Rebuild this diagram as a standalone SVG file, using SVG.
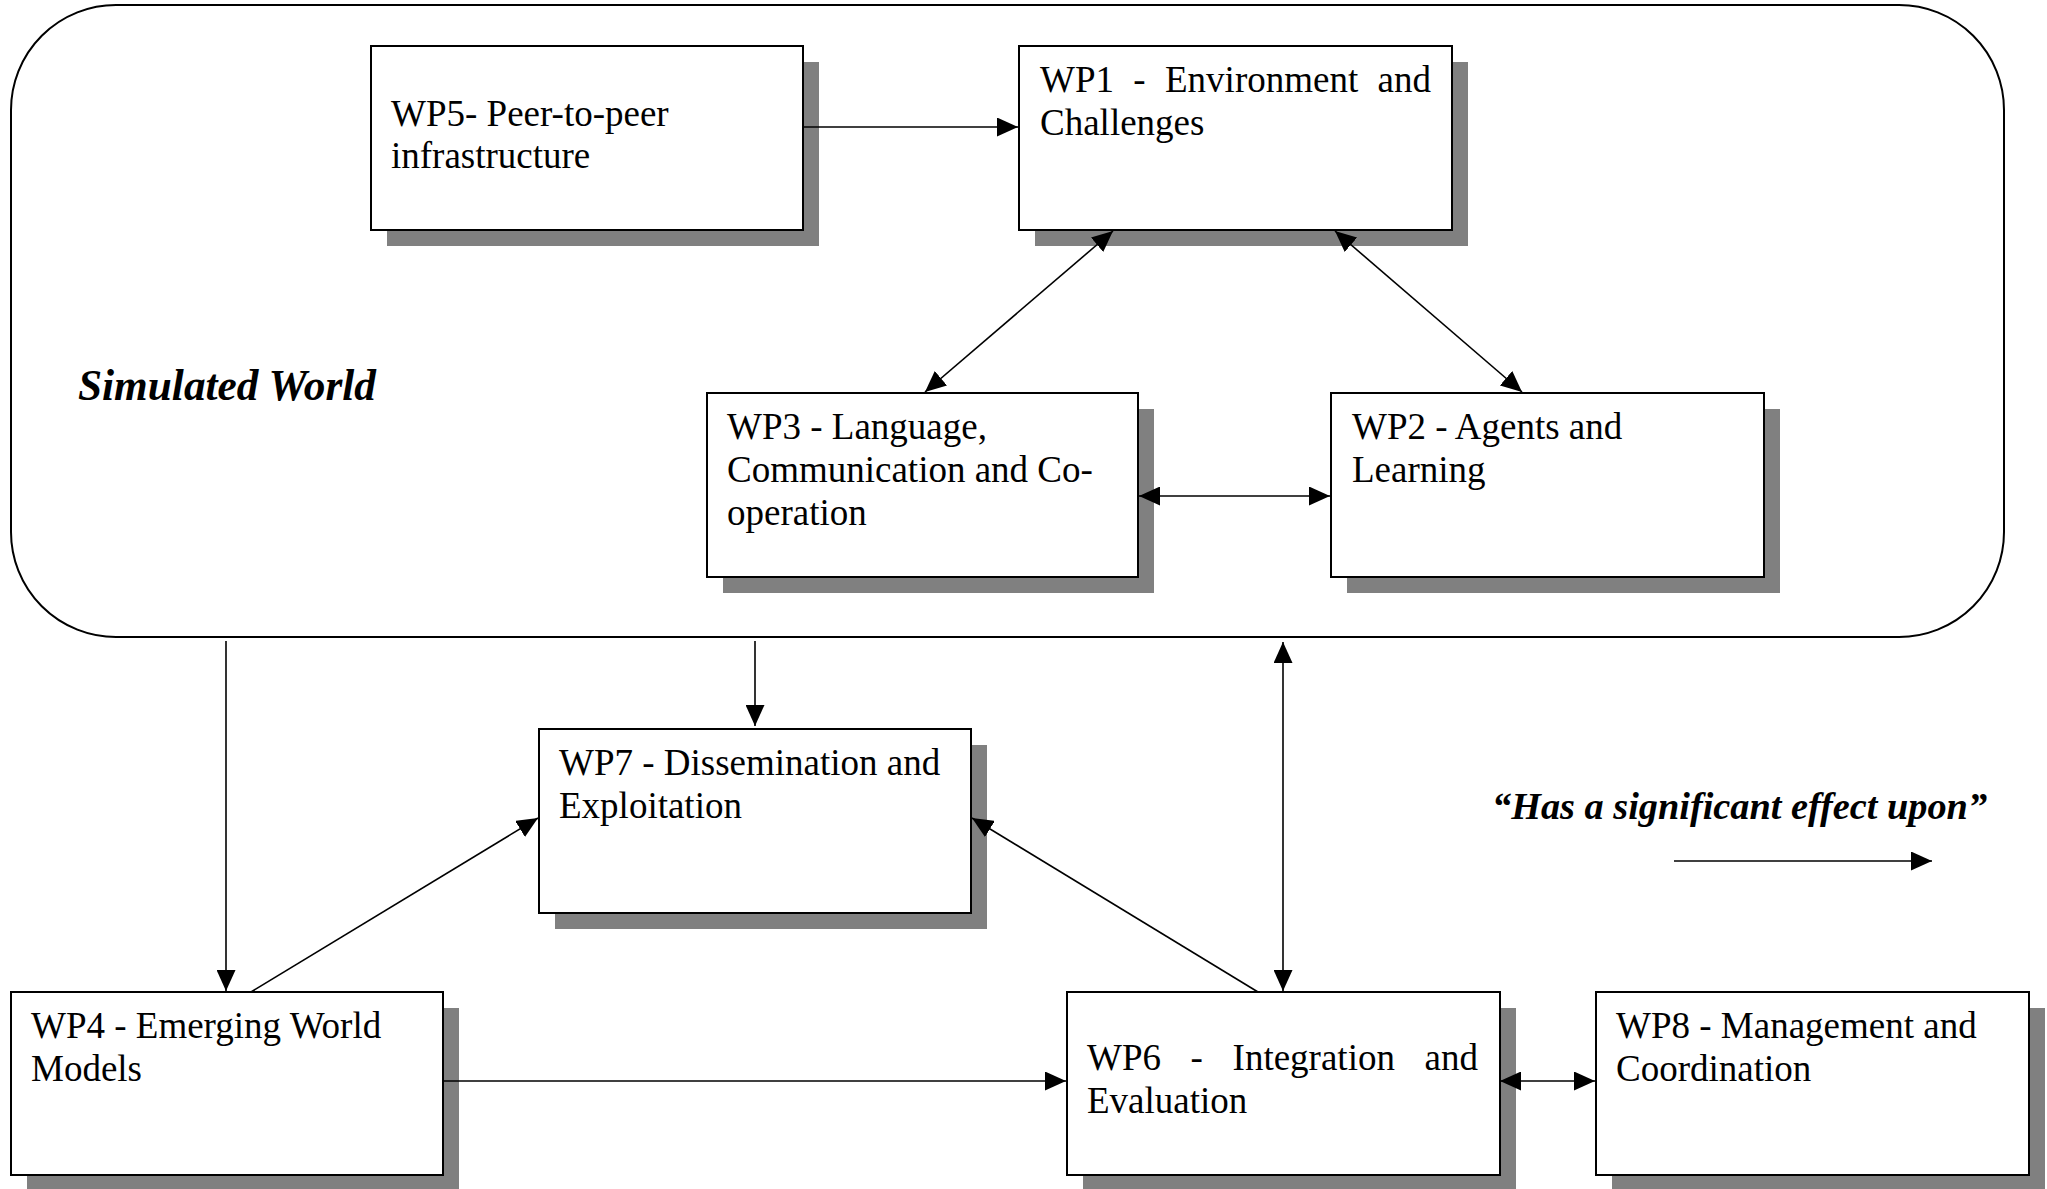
<svg xmlns="http://www.w3.org/2000/svg" width="2047" height="1189" viewBox="0 0 2047 1189">
<style>
  .shadow { fill: #808080; stroke: none; }
  .box { fill: #ffffff; stroke: #000000; stroke-width: 2; }
  .frame { fill: none; stroke: #000000; stroke-width: 2; }
  .lbl { font-family: "Liberation Serif", "Times New Roman", serif; font-size: 37px; fill: #000000; }
  .bi { font-family: "Liberation Serif", "Times New Roman", serif; font-weight: bold; font-style: italic; fill: #000000; }
  .conn { fill: none; stroke: #000000; stroke-width: 1.6; }
</style>
<defs>
  <marker id="arr" viewBox="0 0 21 19" refX="21" refY="9.5" markerWidth="21" markerHeight="19" markerUnits="userSpaceOnUse" orient="auto-start-reverse">
    <path d="M0,0 L21,9.5 L0,19 z" fill="#000000"/>
  </marker>
</defs>
<rect width="2047" height="1189" fill="#ffffff"/>

<g id="simulated-world">
  <rect class="frame" x="11" y="5" width="1993" height="632" rx="105" ry="105"/>
  <text class="bi" x="78" y="400" font-size="43.3">Simulated World</text>
</g>

<g id="wp5">
  <rect class="shadow" x="387" y="62" width="432" height="184"/>
  <rect class="box" x="371" y="46" width="432" height="184"/>
  <text class="lbl"><tspan x="391" y="126">WP5- Peer-to-peer</tspan><tspan x="391" y="168">infrastructure</tspan></text>
</g>

<g id="wp1">
  <rect class="shadow" x="1035" y="62" width="433" height="184"/>
  <rect class="box" x="1019" y="46" width="433" height="184"/>
  <text class="lbl"><tspan x="1040" y="91.5">WP1</tspan><tspan x="1133.3" y="91.5">-</tspan><tspan x="1165" y="91.5">Environment</tspan><tspan x="1377.6" y="91.5">and</tspan><tspan x="1040" y="134.5">Challenges</tspan></text>
</g>

<g id="wp3">
  <rect class="shadow" x="723" y="409" width="431" height="184"/>
  <rect class="box" x="707" y="393" width="431" height="184"/>
  <text class="lbl"><tspan x="727" y="439">WP3 - Language,</tspan><tspan x="727" y="482">Communication and Co-</tspan><tspan x="727" y="525">operation</tspan></text>
</g>

<g id="wp2">
  <rect class="shadow" x="1347" y="409" width="433" height="184"/>
  <rect class="box" x="1331" y="393" width="433" height="184"/>
  <text class="lbl"><tspan x="1352" y="439">WP2 - Agents and</tspan><tspan x="1352" y="482">Learning</tspan></text>
</g>

<g id="wp7">
  <rect class="shadow" x="555" y="745" width="432" height="184"/>
  <rect class="box" x="539" y="729" width="432" height="184"/>
  <text class="lbl"><tspan x="559" y="775">WP7 - Dissemination and</tspan><tspan x="559" y="818">Exploitation</tspan></text>
</g>

<g id="wp4">
  <rect class="shadow" x="27" y="1008" width="432" height="183"/>
  <rect class="box" x="11" y="992" width="432" height="183"/>
  <text class="lbl"><tspan x="31" y="1038">WP4 - Emerging World</tspan><tspan x="31" y="1081">Models</tspan></text>
</g>

<g id="wp6">
  <rect class="shadow" x="1083" y="1008" width="433" height="183"/>
  <rect class="box" x="1067" y="992" width="433" height="183"/>
  <text class="lbl"><tspan x="1087" y="1070">WP6</tspan><tspan x="1190.6" y="1070">-</tspan><tspan x="1232.6" y="1070">Integration</tspan><tspan x="1424.6" y="1070">and</tspan><tspan x="1087" y="1113">Evaluation</tspan></text>
</g>

<g id="wp8">
  <rect class="shadow" x="1612" y="1008" width="433" height="183"/>
  <rect class="box" x="1596" y="992" width="433" height="183"/>
  <text class="lbl"><tspan x="1616" y="1038">WP8 - Management and</tspan><tspan x="1616" y="1081">Coordination</tspan></text>
</g>

<g id="legend">
  <text class="bi" x="1492" y="819" font-size="38.3">“Has a significant effect upon”</text>
  <line class="conn" x1="1674" y1="861" x2="1932" y2="861" marker-end="url(#arr)"/>
</g>

<g id="connectors">
  <line class="conn" x1="803" y1="127" x2="1018" y2="127" marker-end="url(#arr)"/>
  <line class="conn" x1="1113" y1="231" x2="925" y2="392" marker-start="url(#arr)" marker-end="url(#arr)"/>
  <line class="conn" x1="1335" y1="231" x2="1522" y2="392" marker-start="url(#arr)" marker-end="url(#arr)"/>
  <line class="conn" x1="1139" y1="496" x2="1330" y2="496" marker-start="url(#arr)" marker-end="url(#arr)"/>
  <line class="conn" x1="226" y1="641" x2="226" y2="991" marker-end="url(#arr)"/>
  <line class="conn" x1="755" y1="641" x2="755" y2="726" marker-end="url(#arr)"/>
  <line class="conn" x1="251" y1="992" x2="538" y2="818" marker-end="url(#arr)"/>
  <line class="conn" x1="1258" y1="992" x2="972" y2="818" marker-end="url(#arr)"/>
  <line class="conn" x1="1283" y1="642" x2="1283" y2="991" marker-start="url(#arr)" marker-end="url(#arr)"/>
  <line class="conn" x1="443" y1="1081" x2="1066" y2="1081" marker-end="url(#arr)"/>
  <line class="conn" x1="1500" y1="1081" x2="1595" y2="1081" marker-start="url(#arr)" marker-end="url(#arr)"/>
</g>
</svg>
